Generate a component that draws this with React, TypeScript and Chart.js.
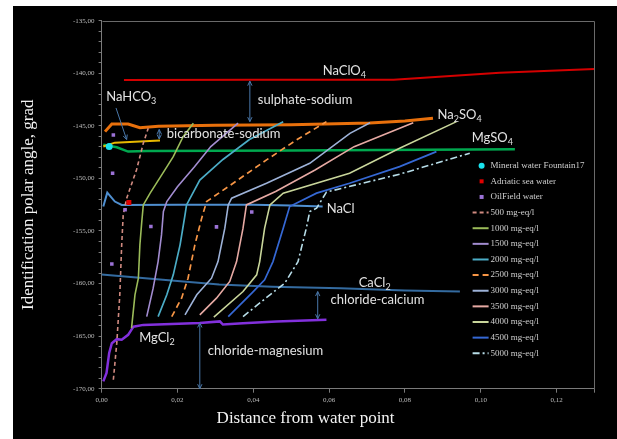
import React, { useEffect, useRef } from 'react';
import { Chart, registerables } from 'chart.js';

Chart.register(...registerables);

type P = [number, number];

// ---- reference lines ----
const naClO4Line: P[] = [[0.0059, -140.64], [0.04, -140.62], [0.077, -140.62], [0.105, -139.94], [0.13, -139.6]];
const na2SO4Line: P[] = [[0.0009, -145.55], [0.0027, -144.82], [0.007, -144.82], [0.0101, -145.17], [0.015, -145.05], [0.03, -144.95], [0.05, -144.9], [0.0707, -144.72], [0.08, -144.55], [0.0874, -144.28]];
const naHCO3Line: P[] = [[0.00045, -146.97], [0.0035, -146.6], [0.0101, -146.5], [0.0154, -146.4]];
const mgSO4Line: P[] = [[0.00045, -146.8], [0.004, -147.04], [0.007, -147.45], [0.012, -147.39], [0.05, -147.35], [0.109, -147.23]];
const naClLine: P[] = [[0.00045, -152.68], [0.0015, -151.35], [0.0035, -152.2], [0.0053, -152.52], [0.02, -152.5], [0.04, -152.5], [0.05, -152.58], [0.0583, -152.68]];
const caCl2Line: P[] = [[0, -159.15], [0.01, -159.45], [0.02, -159.75], [0.031, -160.1], [0.045, -160.3], [0.063, -160.45], [0.08, -160.65], [0.0945, -160.75]];
const mgCl2Line: P[] = [[0.00045, -169.3], [0.0013, -168.5], [0.002, -166.6], [0.0027, -165.67], [0.004, -165.29], [0.0053, -165.35], [0.007, -164.88], [0.0084, -164.1], [0.011, -163.93], [0.0259, -163.75], [0.0312, -163.6], [0.032, -163.9], [0.0373, -163.77], [0.0461, -163.6], [0.0593, -163.45]];

// ---- iso-concentration lines (mg-eq/l) ----
const iso500: P[] = [[0.0031, -169.15], [0.004, -165.67], [0.0048, -161.07], [0.0053, -156.32], [0.0057, -153.47], [0.0066, -151.9], [0.0092, -149.2], [0.011, -146.66], [0.0123, -145.23]];
const iso1000: P[] = [[0.0079, -164.24], [0.0088, -161.07], [0.0097, -159.49], [0.0101, -156.32], [0.0106, -154.1], [0.011, -152.52], [0.0128, -151.4], [0.0167, -149.19], [0.0189, -147.93], [0.0215, -146.03], [0.0242, -144.75]];
const iso1500: P[] = [[0.0119, -163.14], [0.0136, -160.44], [0.0149, -157.91], [0.0158, -155.37], [0.0163, -153.15], [0.0172, -152.2], [0.02, -150.8], [0.0245, -148.9], [0.0288, -146.97], [0.036, -144.75]];
const iso2000: P[] = [[0.0149, -163.14], [0.0172, -161.07], [0.0189, -159.17], [0.0207, -156.32], [0.022, -153.47], [0.0224, -152.52], [0.0259, -150.15], [0.032, -148.2], [0.039, -146.3], [0.0479, -144.6]];
const iso2500: P[] = [[0.0185, -163.14], [0.0211, -161.39], [0.0228, -159.49], [0.0246, -156.32], [0.0264, -153.78], [0.0277, -152.2], [0.0347, -150.46], [0.0435, -148.24], [0.0514, -146.34], [0.0593, -144.6]];
const iso3000: P[] = [[0.022, -162.98], [0.0251, -161.07], [0.029, -159.49], [0.0307, -157.91], [0.0325, -154.73], [0.0334, -152.52], [0.0343, -151.88], [0.0435, -150.46], [0.0549, -148.56], [0.0655, -145.71], [0.0708, -144.7]];
const iso3500: P[] = [[0.0259, -162.98], [0.0303, -161.39], [0.0338, -159.8], [0.0356, -157.91], [0.0373, -154.73], [0.0382, -152.52], [0.0459, -151.25], [0.0563, -149.2], [0.0666, -146.98], [0.0822, -144.7]];
const iso4000: P[] = [[0.0296, -163.2], [0.0373, -160.76], [0.0409, -159.17], [0.0417, -157.91], [0.043, -154.73], [0.0444, -152.52], [0.0479, -151.4], [0.0654, -149.5], [0.0786, -147.13], [0.0936, -144.6]];
const iso4500: P[] = [[0.0334, -163.14], [0.04, -160.76], [0.043, -159.65], [0.0452, -157.91], [0.0479, -154.73], [0.0496, -152.68], [0.0567, -151.4], [0.0654, -150.46], [0.0786, -148.88], [0.0883, -147.45]];
const iso5000: P[] = [[0.0373, -163.14], [0.0444, -161.07], [0.0483, -159.97], [0.0518, -157.91], [0.054, -154.73], [0.0549, -153.15], [0.0567, -152.83], [0.0593, -151.3], [0.0786, -149.6], [0.0971, -147.6]];

// ---- water samples ----
const mineralWater: P[] = [[0.002, -146.97]];
const adriaticWater: P[] = [[0.0072, -152.3]];
const oilfieldWater: P[] = [[0.0031, -145.87], [0.0029, -149.51], [0.0062, -152.99], [0.013, -154.58], [0.0303, -154.61], [0.0396, -153.19], [0.0027, -158.13]];

// ---- axes ----
const X_MIN = 0, X_MAX = 0.13, X_STEP = 0.02;
const Y_MIN = -170, Y_MAX = -135, Y_LABEL_STEP = 5;
const X_TITLE = 'Distance from water point';
const Y_TITLE = 'Identification polar angle, grad';

// ---- annotations: "_d" marks a subscript digit ----
const annotations: { text: string; x: number; y: number }[] = [
  { text: 'NaClO_4', x: 0.0583, y: -139.78 },
  { text: 'NaHCO_3', x: 0.0012, y: -142.22 },
  { text: 'sulphate-sodium', x: 0.0412, y: -142.54 },
  { text: 'Na_2SO_4', x: 0.0886, y: -143.96 },
  { text: 'bicarbonate-sodium', x: 0.0172, y: -145.77 },
  { text: 'MgSO_4', x: 0.0976, y: -146.12 },
  { text: 'NaCl', x: 0.0594, y: -152.9 },
  { text: 'CaCl_2', x: 0.0678, y: -159.96 },
  { text: 'chloride-calcium', x: 0.0604, y: -161.54 },
  { text: 'MgCl_2', x: 0.0099, y: -165.19 },
  { text: 'chloride-magnesium', x: 0.028, y: -166.37 },
];

const arrows: { x1: number; y1: number; x2: number; y2: number; both: boolean }[] = [
  { x1: 0.0391, y1: -140.75, x2: 0.0391, y2: -144.6, both: true },
  { x1: 0.0152, y1: -145.35, x2: 0.0152, y2: -146.25, both: true },
  { x1: 0.0038, y1: -143.3, x2: 0.0066, y2: -146.3, both: false },
  { x1: 0.057, y1: -160.76, x2: 0.057, y2: -163.35, both: true },
  { x1: 0.0259, y1: -163.75, x2: 0.0259, y2: -170, both: true },
];

const toXY = (a: P[]) => a.map(([x, y]) => ({ x, y }));

function lineDs(label: string, data: P[], color: string, width: number, dash: number[], legend: boolean) {
  return {
    label, data: toXY(data), showLine: true, borderColor: color, backgroundColor: color,
    borderWidth: width, borderDash: dash, pointRadius: 0, pointHoverRadius: 0, tension: 0,
    legend,
  } as any;
}
function pointDs(label: string, data: P[], color: string, radius: number, style: string) {
  return {
    label, data: toXY(data), showLine: false, borderColor: color, backgroundColor: color,
    pointRadius: radius, pointStyle: style, borderWidth: 0, legend: true,
  } as any;
}

function drawRich(ctx: CanvasRenderingContext2D, text: string, x: number, y: number) {
  const parts = text.split(/(_\d)/).filter((s) => s.length);
  let cx = x;
  for (const p of parts) {
    if (p.startsWith('_')) {
      ctx.font = '9px Lato';
      ctx.fillText(p.slice(1), cx, y + 4);
      cx += ctx.measureText(p.slice(1)).width;
    } else {
      ctx.font = '13px Lato';
      ctx.fillText(p, cx, y);
      cx += ctx.measureText(p).width;
    }
  }
}

function arrowHead(ctx: CanvasRenderingContext2D, fx: number, fy: number, tx: number, ty: number) {
  const ang = Math.atan2(ty - fy, tx - fx);
  const L = 5, W = 0.45;
  ctx.beginPath();
  ctx.moveTo(tx, ty);
  ctx.lineTo(tx - L * Math.cos(ang - W), ty - L * Math.sin(ang - W));
  ctx.moveTo(tx, ty);
  ctx.lineTo(tx - L * Math.cos(ang + W), ty - L * Math.sin(ang + W));
  ctx.stroke();
}

const overlay = {
  id: 'overlay',
  afterDatasetsDraw(chart: any) {
    const { ctx, chartArea: a, scales } = chart;
    const xs = scales.x, ys = scales.y;
    ctx.save();
    // frame (top & right)
    ctx.strokeStyle = '#6a6a6a';
    ctx.lineWidth = 1;
    ctx.beginPath();
    ctx.moveTo(Math.round(a.left) + 0.5, Math.round(a.top) + 0.5);
    ctx.lineTo(Math.round(a.right) - 0.5, Math.round(a.top) + 0.5);
    ctx.lineTo(Math.round(a.right) - 0.5, Math.round(a.bottom) + 0.5);
    ctx.stroke();

    // arrows
    ctx.strokeStyle = '#4a78aa';
    ctx.lineWidth = 1;
    for (const ar of arrows) {
      const x1 = xs.getPixelForValue(ar.x1), y1 = ys.getPixelForValue(ar.y1);
      const x2 = xs.getPixelForValue(ar.x2), y2 = ys.getPixelForValue(ar.y2);
      ctx.beginPath();
      ctx.moveTo(x1, y1);
      ctx.lineTo(x2, y2);
      ctx.stroke();
      arrowHead(ctx, x1, y1, x2, y2);
      if (ar.both) arrowHead(ctx, x2, y2, x1, y1);
    }

    // annotations
    ctx.fillStyle = '#e2e2e2';
    ctx.textBaseline = 'middle';
    ctx.textAlign = 'left';
    for (const an of annotations) {
      drawRich(ctx, an.text, xs.getPixelForValue(an.x), ys.getPixelForValue(an.y));
    }

    // legend
    const items = chart.data.datasets.filter((d: any) => d.legend);
    const lx = a.left + 371, ly0 = a.top + 145, step = 15.63;
    ctx.font = '9px "Liberation Serif"';
    items.forEach((d: any, i: number) => {
      const yy = ly0 + i * step;
      if (d.showLine) {
        ctx.strokeStyle = d.borderColor;
        ctx.lineWidth = 2;
        ctx.setLineDash(d.borderDash || []);
        ctx.beginPath();
        ctx.moveTo(lx, yy);
        ctx.lineTo(lx + 16, yy);
        ctx.stroke();
        ctx.setLineDash([]);
      } else {
        ctx.fillStyle = d.backgroundColor;
        if (d.pointStyle === 'rect') {
          ctx.fillRect(lx + 7, yy - 2, 4, 4);
        } else {
          ctx.beginPath();
          ctx.arc(lx + 9, yy, 3, 0, Math.PI * 2);
          ctx.fill();
        }
      }
      ctx.fillStyle = '#cfcfcf';
      ctx.fillText(d.label, lx + 18, yy);
    });
    ctx.restore();
  },
  afterDraw(chart: any) {
    const { ctx, chartArea: a } = chart;
    ctx.save();
    ctx.fillStyle = '#f2f2f2';
    ctx.font = '17px "Liberation Serif"';
    ctx.textAlign = 'center';
    ctx.textBaseline = 'middle';
    ctx.fillText(X_TITLE, a.left + 204, a.bottom + 30);
    ctx.translate(15.5, (a.top + a.bottom) / 2);
    ctx.rotate(-Math.PI / 2);
    ctx.fillText(Y_TITLE, 0, 0);
    ctx.restore();
  },
};

export default function App() {
  const ref = useRef<HTMLCanvasElement>(null);
  useEffect(() => {
    const canvas = ref.current!;
    const datasets = [
      pointDs('Mineral water Fountain17', mineralWater, '#19e3ee', 3.5, 'circle'),
      pointDs('Adriatic sea water', adriaticWater, '#e00000', 3.5, 'rect'),
      pointDs('OilField water', oilfieldWater, '#9b72d6', 2.5, 'rect'),
      lineDs('500 mg-eq/l', iso500, '#d08a80', 1.6, [4, 3], true),
      lineDs('1000 mg-eq/l', iso1000, '#9bbb59', 1.6, [], true),
      lineDs('1500 mg-eq/l', iso1500, '#a28cd0', 1.6, [], true),
      lineDs('2000 mg-eq/l', iso2000, '#4bacc6', 1.7, [], true),
      lineDs('2500 mg-eq/l', iso2500, '#f79646', 1.7, [6, 4], true),
      lineDs('3000 mg-eq/l', iso3000, '#9db2d8', 1.6, [], true),
      lineDs('3500 mg-eq/l', iso3500, '#e6a9a3', 1.6, [], true),
      lineDs('4000 mg-eq/l', iso4000, '#c8d59a', 1.6, [], true),
      lineDs('4500 mg-eq/l', iso4500, '#3568d4', 1.7, [], true),
      lineDs('5000 mg-eq/l', iso5000, '#b7dde8', 1.6, [7, 3, 2, 3], true),
      lineDs('NaClO4', naClO4Line, '#d40000', 2, [], false),
      lineDs('Na2SO4', na2SO4Line, '#e8700c', 3, [], false),
      lineDs('NaHCO3', naHCO3Line, '#e6b800', 2, [], false),
      lineDs('MgSO4', mgSO4Line, '#00a84f', 2.5, [], false),
      lineDs('NaCl', naClLine, '#4f8fd0', 2, [], false),
      lineDs('CaCl2', caCl2Line, '#346ba0', 2, [], false),
      lineDs('MgCl2', mgCl2Line, '#8230dc', 2.5, [], false),
    ];
    const tickFont = { family: '"Liberation Serif"', size: 7 };
    const chart = new Chart(canvas, {
      type: 'scatter',
      data: { datasets },
      options: {
        animation: false,
        responsive: false,
        events: [],
        layout: { padding: { left: 0, right: 22.5, top: 14.7, bottom: 0 } },
        plugins: { legend: { display: false }, tooltip: { enabled: false } },
        scales: {
          x: {
            type: 'linear', min: X_MIN, max: X_MAX,
            afterFit: (s: any) => { s.height = 50.3; },
            ticks: {
              stepSize: X_STEP, autoSkip: false, maxRotation: 0, color: '#bdbdbd', font: tickFont, padding: 3,
              callback: (v: any) => {
                const n = Math.round(Number(v) * 100);
                return Math.abs(Number(v) * 100 - n) < 1e-6 && n % 2 === 0 ? Number(v).toFixed(2).replace('.', ',') : '';
              },
            },
            grid: { drawOnChartArea: false, drawTicks: true, tickLength: 4, color: '#7a7a7a' },
            border: { color: '#7a7a7a' },
          },
          y: {
            type: 'linear', min: Y_MIN, max: Y_MAX,
            afterFit: (s: any) => { s.width = 88.6; },
            ticks: {
              stepSize: 1, autoSkip: false, color: '#bdbdbd', font: tickFont, padding: 4,
              callback: (v: any) => (Math.round(Number(v)) % Y_LABEL_STEP === 0 ? Number(v).toFixed(2).replace('.', ',') : ''),
            },
            grid: { drawOnChartArea: false, drawTicks: true, tickLength: 3, color: '#7a7a7a' },
            border: { color: '#7a7a7a' },
          },
        },
      } as any,
      plugins: [overlay],
    });
    return () => chart.destroy();
  }, []);

  return (
    <div style={{ position: 'absolute', left: 0, top: 0, width: 617, height: 439, background: '#ffffff', overflow: 'hidden' }}>
      <div style={{ position: 'absolute', left: 13, top: 6, width: 604, height: 433, background: '#000000' }}>
        <canvas ref={ref} width={604} height={433} style={{ display: 'block', width: 604, height: 433 }} />
      </div>
    </div>
  );
}
